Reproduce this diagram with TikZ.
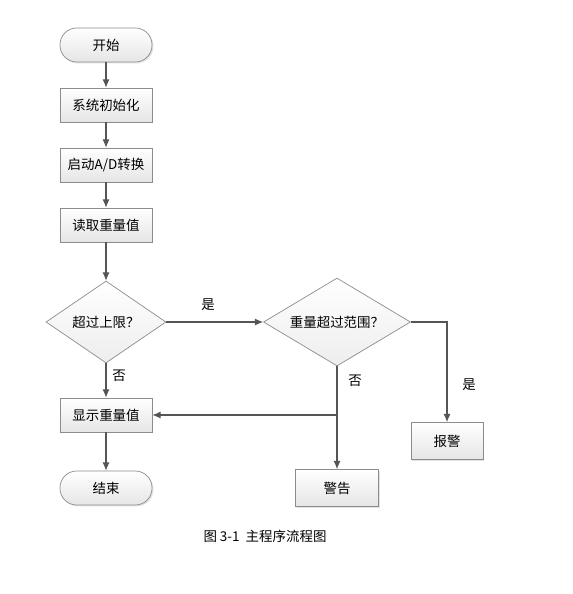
\documentclass[tikz,border=0pt]{standalone}
\usepackage{fontspec}
\setmainfont{Noto Sans CJK SC}
\usepackage{tikz}
\usetikzlibrary{shapes.geometric}
\usetikzlibrary{positioning}
\usetikzlibrary{calc}
\usetikzlibrary{shadows}
\usetikzlibrary{arrows.meta}
\definecolor{lineg}{HTML}{555555}
\definecolor{edgeg}{HTML}{8C8C8C}
\tikzset{every picture/.style={line width=0.6pt}}
\begin{document}
\begin{tikzpicture}[x=0.03cm,y=-0.03cm,
box/.style={rectangle, minimum width=2.76cm, minimum height=1.02cm, draw=edgeg, top color=white, bottom color=gray!20, drop shadow={shadow xshift=1.2pt, shadow yshift=-1.2pt, fill=gray!45}, font=\fontsize{11.5}{13}\selectfont},
term/.style={box, rounded corners=0.5cm},
dec/.style={diamond, inner sep=0pt, draw=edgeg, top color=white, bottom color=gray!14, font=\fontsize{11.5}{13}\selectfont},
lab/.style={font=\fontsize{11.5}{13}\selectfont},
arr/.style={-{Latex[length=7pt,width=6pt]}, draw=lineg, line width=0.9pt}]
\useasboundingbox (0,0) rectangle (573,594);
% main column
\node (start) at (106,45) [term] {开始};
\node (init) at (106,105) [box] {系统初始化};
\node (ad) at (106,165) [box] {启动A/D转换};
\node (read) at (106,225) [box] {读取重量值};
\node (over) at (106,322) [dec, aspect=1.46, minimum width=3.6cm, minimum height=2.46cm] {超过上限？};
\node (show) at (106,415) [box] {显示重量值};
\node (stop) at (106,488) [term] {结束};
% right part
\node (range) at (337,322) [dec, aspect=1.67, minimum width=4.41cm, minimum height=2.64cm] {重量超过范围？};
\node (warn) at (337,488) [box, minimum width=2.49cm, minimum height=1.11cm] {警告};
\node (alarm) at (447,441) [box, minimum width=2.16cm, minimum height=1.11cm] {报警};
\coordinate (j) at (range.south |- show.east);
\draw[arr] (start) -- (init);
\draw[arr] (init) -- (ad);
\draw[arr] (ad) -- (read);
\draw[arr] (read) -- (over);
\draw[arr] (over) -- (show);
\draw[arr] (show) -- (stop);
\draw[arr] (over.east) -- (range.west);
\draw[arr] (range.south) -- (warn.north);
\draw[arr] (j) -- (show.east);
\draw[arr] (range.east) -- (alarm.north |- range.east) -- (alarm.north);
% labels
\node (yes1) at (208,305) [lab] {是};
\node (no1) at (119,376) [lab] {否};
\node (no2) at (355,381) [lab] {否};
\node (yes2) at (469,385) [lab] {是};
\node (cap) at (265,536) [lab] {图 3-1\ \ 主程序流程图};
\end{tikzpicture}
\end{document}
